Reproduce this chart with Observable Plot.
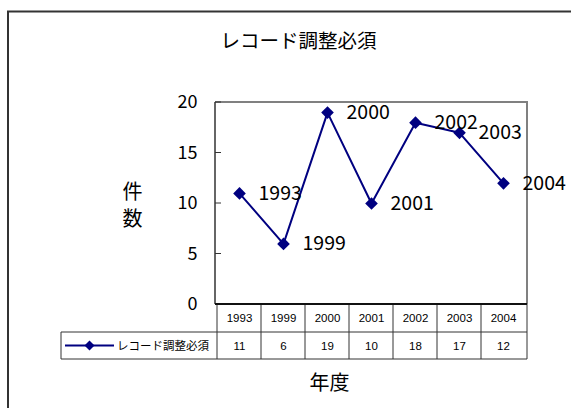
<!DOCTYPE html>
<html><head><meta charset="utf-8">
<script src="https://cdn.jsdelivr.net/npm/d3@7"></script>
<script src="https://cdn.jsdelivr.net/npm/@observablehq/plot@0.6"></script>
<style>html,body{margin:0;padding:0;background:#fff} svg{display:block}</style>
</head><body><div id="chart"></div>
<script>
const title = "レコード調整必須";
const seriesName = "レコード調整必須";
const years = ["1993","1999","2000","2001","2002","2003","2004"];
const counts = [11, 6, 19, 10, 18, 17, 12];
const yTicks = [0, 5, 10, 15, 20];
const yLabel = ["件", "数"];
const xLabel = "年度";

const data = years.map((y, i) => ({year: y, count: counts[i]}));
const FONT = "'Noto Sans CJK JP', 'Noto Sans', sans-serif";
const TABLE_FONT = "'Liberation Sans', Arial, sans-serif";
const NAVY = "#000080";

// frame, inward ticks and data-table grid, positioned with Plot's own scales
function chrome(index, scales, values, dimensions) {
  const {width, height, marginLeft, marginRight, marginTop, marginBottom} = dimensions;
  const left = marginLeft, right = width - marginRight, top = marginTop, bottom = height - marginBottom;
  const step = scales.x(years[1]) - scales.x(years[0]);
  const colStart = scales.x(years[0]) - step / 2;
  const row1 = bottom + 28, row2 = bottom + 55, legendLeft = 61;
  const g = d3.create("svg:g");
  // outer chart area border
  g.append("path").attr("d", `M8,${height + 5}V11.5H${width + 5}`)
    .attr("fill", "none").attr("stroke", "#333").attr("stroke-width", 2);
  // plot area border (grey top/right)
  g.append("path").attr("d", `M${left},${top}H${right}V${bottom}`)
    .attr("fill", "none").attr("stroke", "#808080").attr("stroke-width", 2);
  // value axis
  g.append("line").attr("x1", left).attr("x2", left).attr("y1", top).attr("y2", bottom)
    .attr("stroke", "#333").attr("stroke-width", 1.5);
  for (const t of yTicks) {
    g.append("line").attr("x1", left).attr("x2", left + 6)
      .attr("y1", scales.y(t)).attr("y2", scales.y(t)).attr("stroke", "#333");
  }
  // table grid
  const s = "#333";
  years.forEach((_, k) => {
    g.append("line").attr("x1", colStart + k * step).attr("x2", colStart + k * step)
      .attr("y1", bottom).attr("y2", row2).attr("stroke", s);
  });
  g.append("line").attr("x1", right).attr("x2", right).attr("y1", bottom).attr("y2", row2).attr("stroke", s);
  g.append("line").attr("x1", legendLeft).attr("x2", legendLeft).attr("y1", row1).attr("y2", row2).attr("stroke", s);
  g.append("line").attr("x1", legendLeft).attr("x2", right).attr("y1", row1).attr("y2", row1).attr("stroke", s);
  g.append("line").attr("x1", legendLeft).attr("x2", right).attr("y1", row2).attr("y2", row2).attr("stroke", s);
  // category axis line
  g.append("line").attr("x1", left).attr("x2", right).attr("y1", bottom).attr("y2", bottom)
    .attr("stroke", "#111").attr("stroke-width", 2);
  // legend key
  const ly = (row1 + row2) / 2;
  g.append("line").attr("x1", 65).attr("x2", 114).attr("y1", ly).attr("y2", ly)
    .attr("stroke", NAVY).attr("stroke-width", 2);
  g.append("path").attr("d", `M89.5,${ly - 5}L94.5,${ly}L89.5,${ly + 5}L84.5,${ly}Z`).attr("fill", NAVY);
  g.append("text").attr("x", 117).attr("y", ly).attr("dy", "0.35em")
    .attr("text-anchor", "start").attr("font-size", 11.5).attr("fill", "#000").text(seriesName);
  return g.node();
}

const chart = Plot.plot({
  width: 571,
  height: 408,
  marginLeft: 215,
  marginRight: 44,
  marginTop: 102,
  marginBottom: 104,
  style: {fontFamily: FONT, fontSize: "18px", color: "#000", background: "#fff", overflow: "visible"},
  x: {type: "point", domain: years, padding: 0.5, axis: null},
  y: {domain: [0, 20], axis: null},
  marks: [
    chrome,
    Plot.text(yTicks, {y: d => d, frameAnchor: "left", dx: -18, textAnchor: "end", text: d => String(d), fontSize: 18}),
    Plot.line(data, {x: "year", y: "count", stroke: NAVY, strokeWidth: 2}),
    Plot.dot(data, {x: "year", y: "count", symbol: "diamond2", r: 5.7, fill: NAVY, stroke: "none"}),
    Plot.text(data, {x: "year", y: "count", text: "year", dx: 19, textAnchor: "start", fontSize: 19.5}),
    Plot.text(data, {x: "year", text: "year", frameAnchor: "bottom", lineAnchor: "middle", dy: 14, fontSize: 11.5, fontFamily: TABLE_FONT}),
    Plot.text(data, {x: "year", text: d => String(d.count), frameAnchor: "bottom", lineAnchor: "middle", dy: 42, fontSize: 11.5, fontFamily: TABLE_FONT}),
    Plot.text([title], {frameAnchor: "top", lineAnchor: "middle", dx: -73, dy: -61, fontSize: 19.5}),
    Plot.text([yLabel.join("\n")], {frameAnchor: "left", lineAnchor: "middle", dx: -93, lineHeight: 1.35, fontSize: 20}),
    Plot.text([xLabel], {frameAnchor: "bottom", lineAnchor: "middle", dx: -42, dy: 79, fontSize: 20})
  ]
});
document.getElementById("chart").appendChild(chart);
</script>
</body></html>
